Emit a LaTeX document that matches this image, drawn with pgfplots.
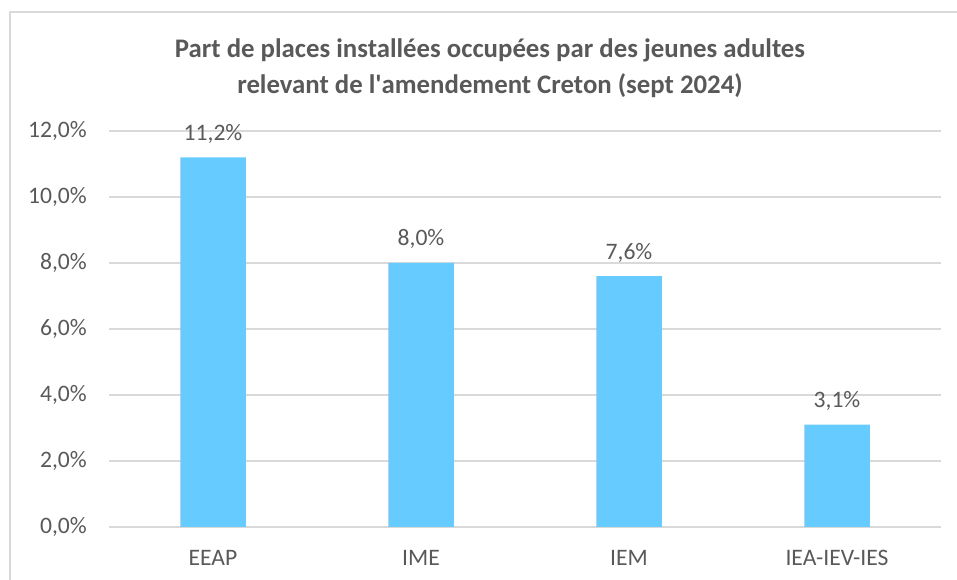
\documentclass[border=0pt]{standalone}
\usepackage{pgfplots}
\pgfplotsset{compat=1.18}
\usepackage{fontspec}
\setmainfont{Carlito}
\definecolor{txt}{HTML}{595959}
\definecolor{gridc}{HTML}{D9D9D9}
\definecolor{barc}{HTML}{66CCFF}

\begin{document}
\begin{tikzpicture}
\path[use as bounding box] (0,0) rectangle (957pt,580pt);
\draw[gridc, line width=1.5pt] (10pt,-5pt) -- (10pt,568pt) -- (970pt,568pt);
\node[align=center, text=txt, font=\fontsize{26.8}{36}\selectfont\bfseries] at (490pt,512pt)
  {Part de places installées occupées par des jeunes adultes\\relevant de l\textquotesingle amendement Creton (sept 2024)};
\begin{axis}[
    at={(109pt,53pt)}, anchor=south west,
    scale only axis,
    width=832pt, height=396pt,
    ybar, bar width=65.5pt,
    xmin=-0.5, xmax=3.5,
    ymin=0, ymax=12,
    xtick={0,1,2,3},
    xticklabels={EEAP, IME, IEM, IEA-IEV-IES},
    ytick={0,2,4,6,8,10,12},
    yticklabel={\pgfmathprintnumber[fixed,fixed zerofill,precision=1,use comma]{\tick}\%},
    /pgf/number format/assume math mode=true,
    major tick length=0pt,
    axis line style={draw=none},
    ymajorgrids,
    grid style={gridc, line width=1.4pt},
    tick label style={text=txt, font=\fontsize{23.6}{27}\selectfont, inner sep=0pt},
    xticklabel style={anchor=base, yshift=-38pt},
    yticklabel style={anchor=east, xshift=-22pt},
    nodes near coords={\pgfmathprintnumber[fixed,fixed zerofill,precision=1,use comma]{\pgfplotspointmeta}\%},
    every node near coord/.append style={text=txt, font=\fontsize{23.6}{27}\selectfont, inner sep=0pt, anchor=base, yshift=17pt},
]
\addplot[fill=barc, draw=none] coordinates {
    (0, 11.2)
    (1, 8.0)
    (2, 7.6)
    (3, 3.1)
};
\end{axis}
\end{tikzpicture}
\end{document}
